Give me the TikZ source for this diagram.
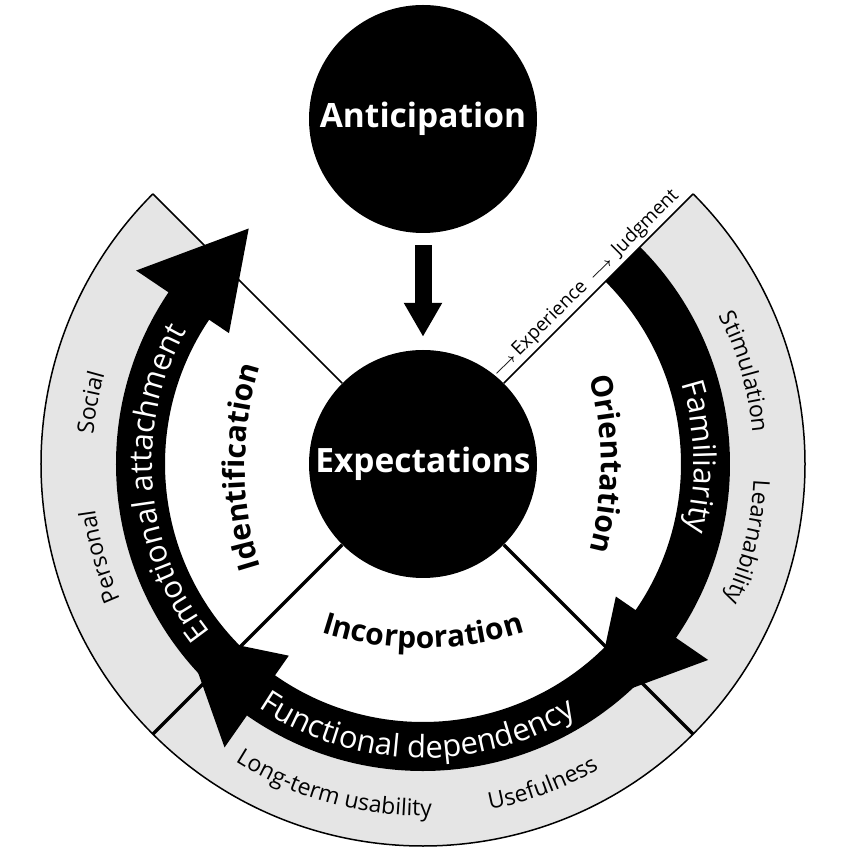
\documentclass[tikz,border=0pt]{standalone}
\usepackage{fontspec}
\setmainfont{Open Sans}
\usetikzlibrary{
	arrows.meta,
	calc,
	decorations.text
}

\newcommand\stagefont{\fontsize{33.5pt}{36pt}\selectfont\bfseries}
\newcommand\phasefont{\fontsize{30pt}{30pt}\selectfont\bfseries}
\newcommand\bandfont{\fontsize{31pt}{31pt}\selectfont}
\newcommand\ringfont{\fontsize{23pt}{23pt}\selectfont}
\newcommand\flowfont{\fontsize{19pt}{19pt}\selectfont}
\newcommand\flowarrow{{\fontsize{15pt}{15pt}\selectfont\boldmath$\longrightarrow$}}

\begin{document}
\begin{tikzpicture}[
		x=1pt, y=1pt,
		stage/.style={
				circle,
				fill=black,
				text=white,
				minimum size=228pt,
				inner sep=0pt,
				font=\stagefont
			},
		divider/.style={line width=1.5pt},
		thickdivider/.style={line width=3.5pt},
		arctext/.style 2 args={
				decorate,
				decoration={text along path, text align=center, text color=#1, text={#2}}
			}
	]
	\useasboundingbox (-423,-386) rectangle (427,464);

	\fill[black!10] (135:307) arc[start angle=135, end angle=405, radius=307]
	-- (45:382) arc[start angle=45, end angle=-225, radius=382] -- cycle;
	\draw[divider] (135:382) arc[start angle=135, end angle=405, radius=382];

	\node[stage] (exp) at (0,0) {Expectations};
	\node[stage] (ant) at (0,345) {Anticipation};

	\draw[divider] (exp.45) -- (45:382);
	\draw[divider] (exp.135) -- (135:382);
	\draw[thickdivider] (exp.225) -- (225:382);
	\draw[thickdivider] (exp.315) -- (315:382);

	\fill (45:307) arc[start angle=45, end angle=-34.5, radius=307] -- (-34.5:346) -- (-54.5:293)
	-- (-34.5:234) -- (-34.5:258) arc[start angle=-34.5, end angle=45, radius=258] -- cycle;
	\fill (-41:307) arc[start angle=-41, end angle=-125, radius=307] -- (-125:346) -- (-144.5:293)
	-- (-125:234) -- (-125:258) arc[start angle=-125, end angle=-41, radius=258] -- cycle;
	\fill (228:307) arc[start angle=228, end angle=146, radius=307] -- (146:346) -- (126.5:293)
	-- (146:234) -- (146:258) arc[start angle=146, end angle=228, radius=258] -- cycle;

	\draw[line width=17pt, -{Triangle[length=34pt, width=36pt]}, shorten <=12pt, shorten >=13pt] (ant) -- (exp);

	\node[rotate=45, anchor=base west, inner sep=0pt, font=\flowfont] (flow) at ($(exp.center)+(45:114)+(135:8)$)
	{\flowarrow\,Experience\hspace{9pt}\flowarrow\hspace{8pt}Judgment};

	\path[arctext={white}{|\bandfont|Familiarity}] (31.5:271) arc[start angle=31.5, end angle=-28.5, radius=271];
	\path[arctext={white}{|\bandfont|Functional dependency}] (226.7:294) arc[start angle=226.7, end angle=310.7, radius=294];
	\path[arctext={white}{|\bandfont|Emotional attachment}] (229.5:271) arc[start angle=229.5, end angle=139.5, radius=271];

	\path[arctext={black}{|\ringfont|Stimulation}] (36:331) arc[start angle=36, end angle=-4, radius=331];
	\path[arctext={black}{|\ringfont|Learnability}] (6.5:331) arc[start angle=6.5, end angle=-33.5, radius=331];
	\path[arctext={black}{|\ringfont|Social}] (189.5:331) arc[start angle=189.5, end angle=149.5, radius=331];
	\path[arctext={black}{|\ringfont|Personal}] (216:331) arc[start angle=216, end angle=176, radius=331];
	\path[arctext={black}{|\ringfont|Long-term usability}] (229.6:352) arc[start angle=229.6, end angle=279.6, radius=352];
	\path[arctext={black}{|\ringfont|Usefulness}] (270.5:352) arc[start angle=270.5, end angle=310.5, radius=352];

	\path[arctext={black}{|\phasefont|Identification}] ($(154,-3)+(208:332)$) arc[start angle=208, end angle=152, radius=332];
	\path[arctext={black}{|\phasefont|Orientation}] ($(-154,0)+(28:332)$) arc[start angle=28, end angle=-28, radius=332];
	\path[arctext={black}{|\phasefont|Incorporation}] ($(0,148)+(240:332)$) arc[start angle=240, end angle=300, radius=332];
\end{tikzpicture}
\end{document}
